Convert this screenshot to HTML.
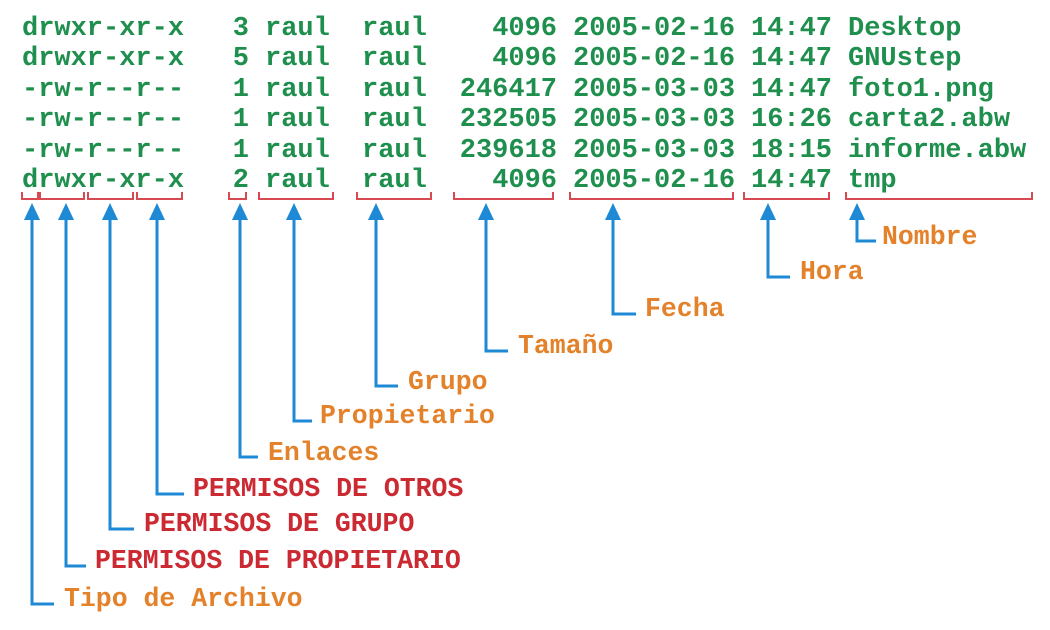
<!DOCTYPE html>
<html><head><meta charset="utf-8"><style>
html,body{margin:0;padding:0;background:#fff;}
svg{display:block}
.t text{font-family:"Liberation Mono",monospace;font-weight:bold;font-size:27px;fill:#1f8f4e}
.e{text-anchor:end}
.o{font-family:"Liberation Mono",monospace;font-weight:bold;font-size:26.5px;fill:#e3822a}
.r{font-family:"Liberation Mono",monospace;font-weight:bold;font-size:26.5px;fill:#cc2a33}
</style></head><body>
<svg width="1050" height="630" viewBox="0 0 1050 630" xmlns="http://www.w3.org/2000/svg">
<g class="t">
<text x="22" y="35">drwxr-xr-x</text><text class="e" x="249" y="35">3</text><text x="265" y="35">raul</text><text x="362" y="35">raul</text><text class="e" x="557" y="35">4096</text><text x="573" y="35">2005-02-16</text><text x="751" y="35">14:47</text><text x="848" y="35">Desktop</text>
<text x="22" y="65">drwxr-xr-x</text><text class="e" x="249" y="65">5</text><text x="265" y="65">raul</text><text x="362" y="65">raul</text><text class="e" x="557" y="65">4096</text><text x="573" y="65">2005-02-16</text><text x="751" y="65">14:47</text><text x="848" y="65">GNUstep</text>
<text x="22" y="96">-rw-r--r--</text><text class="e" x="249" y="96">1</text><text x="265" y="96">raul</text><text x="362" y="96">raul</text><text class="e" x="557" y="96">246417</text><text x="573" y="96">2005-03-03</text><text x="751" y="96">14:47</text><text x="848" y="96">foto1.png</text>
<text x="22" y="126">-rw-r--r--</text><text class="e" x="249" y="126">1</text><text x="265" y="126">raul</text><text x="362" y="126">raul</text><text class="e" x="557" y="126">232505</text><text x="573" y="126">2005-03-03</text><text x="751" y="126">16:26</text><text x="848" y="126">carta2.abw</text>
<text x="22" y="157">-rw-r--r--</text><text class="e" x="249" y="157">1</text><text x="265" y="157">raul</text><text x="362" y="157">raul</text><text class="e" x="557" y="157">239618</text><text x="573" y="157">2005-03-03</text><text x="751" y="157">18:15</text><text x="848" y="157">informe.abw</text>
<text x="22" y="187">drwxr-xr-x</text><text class="e" x="249" y="187">2</text><text x="265" y="187">raul</text><text x="362" y="187">raul</text><text class="e" x="557" y="187">4096</text><text x="573" y="187">2005-02-16</text><text x="751" y="187">14:47</text><text x="848" y="187">tmp</text>
</g>
<g fill="none" stroke="#d84a52" stroke-width="2">
<path d="M22,192V199H38V192"/><path d="M40,192V199H84V192"/><path d="M88,192V199H133V192"/><path d="M137,192V199H182V192"/>
<path d="M229,192V199H246V192"/><path d="M259,192V199H333V192"/><path d="M357,192V199H431V192"/><path d="M454,192V199H553V192"/>
<path d="M570,192V199H733V192"/><path d="M744,192V199H829V192"/><path d="M846,192V199H1032V192"/>
</g>
<g fill="none" stroke="#1e8ad6" stroke-width="3">
<path d="M32,214V604H54"/><path d="M66,214V566H86"/><path d="M110,214V529H134"/><path d="M157,214V494H184"/>
<path d="M240,214V457H258"/><path d="M294,214V421H312"/><path d="M376,214V386H398"/><path d="M486,214V351H508"/>
<path d="M613,214V314H636"/><path d="M768,214V277H790"/><path d="M857,214V241H876"/>
</g>
<g fill="#1e8ad6">
<path d="M24,220L32,203L40,220Z"/><path d="M58,220L66,203L74,220Z"/><path d="M102,220L110,203L118,220Z"/><path d="M149,220L157,203L165,220Z"/>
<path d="M232,220L240,203L248,220Z"/><path d="M286,220L294,203L302,220Z"/><path d="M368,220L376,203L384,220Z"/><path d="M478,220L486,203L494,220Z"/>
<path d="M605,220L613,203L621,220Z"/><path d="M760,220L768,203L776,220Z"/><path d="M849,220L857,203L865,220Z"/>
</g>
<text class="o" x="64" y="606">Tipo de Archivo</text>
<text class="r" x="95" y="568">PERMISOS DE PROPIETARIO</text>
<text class="r" x="144" y="531">PERMISOS DE GRUPO</text>
<text class="r" x="193" y="496">PERMISOS DE OTROS</text>
<text class="o" x="268" y="460">Enlaces</text>
<text class="o" x="320" y="423">Propietario</text>
<text class="o" x="408" y="389">Grupo</text>
<text class="o" x="518" y="353">Tamaño</text>
<text class="o" x="645" y="316">Fecha</text>
<text class="o" x="800" y="279">Hora</text>
<text class="o" x="882" y="244">Nombre</text>
</svg>
</body></html>
